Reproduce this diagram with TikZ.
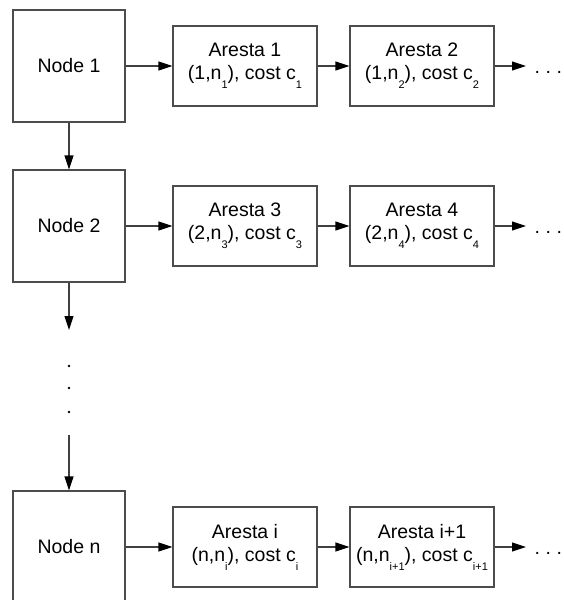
\documentclass[tikz,border=0pt]{standalone}
\usepackage{fontspec}
\setmainfont{Liberation Sans}
\usetikzlibrary{arrows.meta}
% lowered small index, as in n_1 or c_{i+1}
\newcommand\lowsub[1]{\raisebox{-9pt}{\fontsize{11}{11}\selectfont #1}}
\begin{document}
\begin{tikzpicture}[x=1pt,y=-1pt,
  every node/.style={font=\fontsize{19.5}{23}\selectfont},
  vertex/.style={draw=black!70, line width=1.1pt, minimum width=112pt,
    minimum height=112pt, inner sep=0pt},
  edgebox/.style={draw=black!70, line width=1.1pt, minimum width=144pt,
    minimum height=80pt, inner sep=0pt, align=center},
  link/.style={line width=1.1pt, draw=black!75,
    -{Triangle[length=14pt,width=9pt,black]}},
  more/.style={anchor=base west, inner sep=0pt},
]
\clip (0,0) rectangle (563,600);

% row 1
\node[vertex]   (n1) at (69,66)  {Node 1};
\node[edgebox]  (a1) at (245,66) {Aresta 1\\(1,n\lowsub{1}), cost c\lowsub{1}};
\node[edgebox]  (a2) at (422,66) {Aresta 2\\(1,n\lowsub{2}), cost c\lowsub{2}};
\coordinate (e1) at (526,66);
\node[more] (d1) at (534.5,73) {.\hspace{5.6pt}.\hspace{5.6pt}.};

% row 2
\node[vertex]   (n2) at (69,226)  {Node 2};
\node[edgebox]  (a3) at (245,226) {Aresta 3\\(2,n\lowsub{3}), cost c\lowsub{3}};
\node[edgebox]  (a4) at (422,226) {Aresta 4\\(2,n\lowsub{4}), cost c\lowsub{4}};
\coordinate (e2) at (526,226);
\node[more] (d2) at (534.5,233) {.\hspace{5.6pt}.\hspace{5.6pt}.};

% last row
\node[vertex]   (nn) at (69,547)  {Node n};
\node[edgebox]  (ai) at (245,547) {Aresta i\\(n,n\lowsub{i}), cost c\lowsub{i}};
\node[edgebox]  (aj) at (422,547) {Aresta i+1\\(n,n\lowsub{i+1}), cost c\lowsub{i+1}};
\coordinate (e3) at (526,547);
\node[more] (d3) at (534.5,554) {.\hspace{5.6pt}.\hspace{5.6pt}.};

% connectors along each row
\draw[link] (n1) -- (a1);
\draw[link] (a1) -- (a2);
\draw[link] (a2) -- (e1);
\draw[link] (n2) -- (a3);
\draw[link] (a3) -- (a4);
\draw[link] (a4) -- (e2);
\draw[link] (nn) -- (ai);
\draw[link] (ai) -- (aj);
\draw[link] (aj) -- (e3);

% the column of nodes
\coordinate (g1) at (69,330);
\coordinate (g2) at (69,435);
\draw[link] (n1) -- (n2);
\draw[link] (n2) -- (g1);
\draw[link] (g2) -- (nn);
\foreach \y in {366,388,412} \fill (69,\y) circle (1.3pt);
\end{tikzpicture}
\end{document}
